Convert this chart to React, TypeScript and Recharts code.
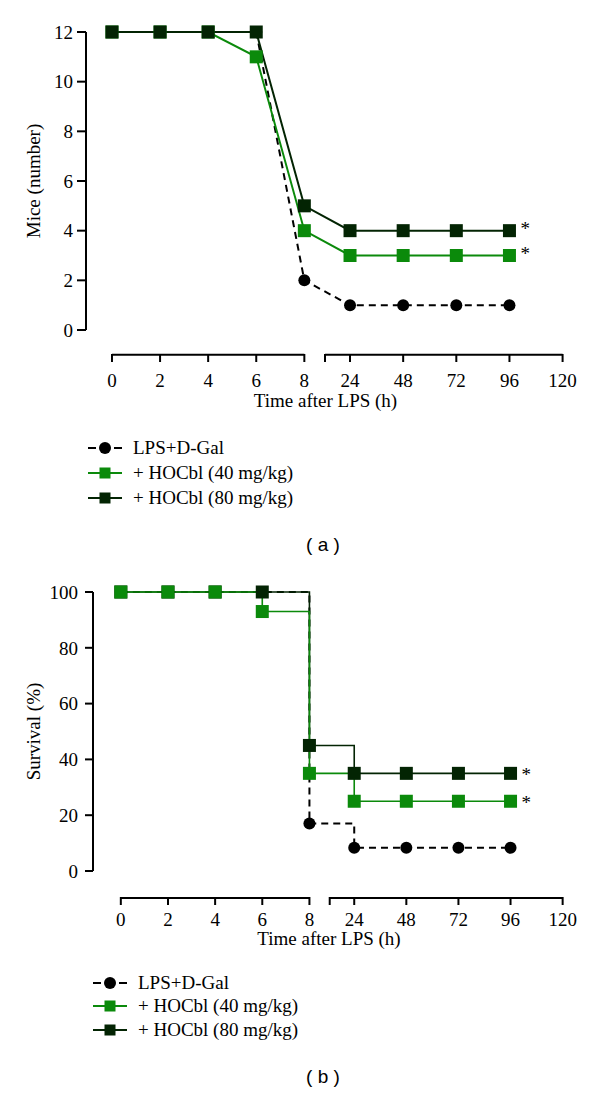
import { LineChart, Line, XAxis, YAxis, ReferenceLine, Legend } from 'recharts'

const HOURS = [0, 2, 4, 6, 8, 24, 48, 72, 96]
const HOUR_TICKS = [0, 2, 4, 6, 8, 24, 48, 72, 96, 120]

// (a) mice alive
const MICE_LPS = [12, 12, 12, 12, 2, 1, 1, 1, 1]
const MICE_HOCBL40 = [12, 12, 12, 11, 4, 3, 3, 3, 3]
const MICE_HOCBL80 = [12, 12, 12, 12, 5, 4, 4, 4, 4]
const MICE_TICKS = [0, 2, 4, 6, 8, 10, 12]

// (b) survival %
const SURV_LPS = [100, 100, 100, 100, 17, 8.3, 8.3, 8.3, 8.3]
const SURV_HOCBL40 = [100, 100, 100, 93, 35, 25, 25, 25, 25]
const SURV_HOCBL80 = [100, 100, 100, 100, 45, 35, 35, 35, 35]
const SURV_TICKS = [0, 20, 40, 60, 80, 100]

const SERIES_NAMES = ['LPS+D-Gal', '+ HOCbl (40 mg/kg)', '+ HOCbl (80 mg/kg)']

const SERIF = '"Liberation Serif", "DejaVu Serif", serif'
const SANS = '"Liberation Sans", Arial, sans-serif'
const GREEN = '#0b8a0b'
const DARK = '#032403'

// broken time axis: 0-8 h evenly spaced, then 24 h steps after the break
const toPos = (h: number) => (h <= 8 ? h / 2 : 4.95 + ((h - 24) / 24) * 1.105)
const BREAK_POS = 4.43
const X_END = toPos(120)

const xTicks = [...HOUR_TICKS.map(toPos), BREAK_POS].sort((a, b) => a - b)
const tickLabel = (v: number) => {
  const h = HOUR_TICKS.find(t => Math.abs(toPos(t) - v) < 1e-6)
  return h === undefined ? '' : String(h)
}

const buildData = (lps: number[], d40: number[], d80: number[]) =>
  HOURS.map((h, i) => ({ hour: h, pos: toPos(h), lps: lps[i], d40: d40[i], d80: d80[i] }))

const miceData = buildData(MICE_LPS, MICE_HOCBL40, MICE_HOCBL80)
const survData = buildData(SURV_LPS, SURV_HOCBL40, SURV_HOCBL80)

const squareDot = (color: string) => (props: any) => {
  const { cx, cy, index } = props
  if (cx == null || cy == null) return <g key={index} />
  return <rect key={index} x={cx - 6.5} y={cy - 6.5} width={13} height={13} fill={color} />
}

const starLabel = (last: number, dy: number) => (props: any) => {
  if (props.index !== last) return null
  return (
    <text key="star" x={props.x + 11} y={props.y + dy} fontSize={19} fontFamily={SERIF} fill="#000">
      *
    </text>
  )
}

const makeXTick = (gap: number, labelGap: number) => (props: any) => {
  const { x, y, payload } = props
  const label = tickLabel(payload.value)
  return (
    <g>
      <line x1={x} x2={x} y1={y + gap - 1} y2={y + gap + 7} stroke="#000" strokeWidth={2} />
      {label && (
        <text x={x} y={y + gap + labelGap} textAnchor="middle" fontSize={19} fontFamily={SERIF} fill="#000">
          {label}
        </text>
      )}
    </g>
  )
}

const xTitle = (dy: number) => (props: any) => {
  const vb = props.viewBox
  return (
    <text x={vb.x + vb.width / 2} y={vb.y + dy} textAnchor="middle" fontSize={19} fontFamily={SERIF} fill="#000">
      Time after LPS (h)
    </text>
  )
}

const yTitle = (text: string) => (props: any) => {
  const vb = props.viewBox
  const cx = 33
  const cy = vb.y + vb.height / 2
  return (
    <text x={cx} y={cy} transform={`rotate(-90 ${cx} ${cy})`} textAnchor="middle" dominantBaseline="central"
      fontSize={19} fontFamily={SERIF} fill="#000">
      {text}
    </text>
  )
}

function LegendBlock({ rowH }: { rowH: number }) {
  return (
    <div style={{ fontFamily: SERIF, fontSize: 19, color: '#000' }}>
      {SERIES_NAMES.map((name, i) => (
        <div key={name} style={{ display: 'flex', alignItems: 'center', height: rowH }}>
          <svg width={36} height={16} style={{ flex: 'none' }}>
            {i === 0 ? (
              <>
                <line x1={0} x2={8} y1={8} y2={8} stroke="#000" strokeWidth={2} />
                <line x1={26} x2={34} y1={8} y2={8} stroke="#000" strokeWidth={2} />
                <circle cx={17} cy={8} r={6} fill="#000" />
              </>
            ) : (
              <>
                <line x1={0} x2={34} y1={8} y2={8} stroke={i === 1 ? GREEN : DARK} strokeWidth={2} />
                <rect x={11.5} y={2.5} width={11} height={11} fill={i === 1 ? GREEN : DARK} />
              </>
            )}
          </svg>
          <span style={{ marginLeft: 9, whiteSpace: 'nowrap' }}>{name}</span>
        </div>
      ))}
    </div>
  )
}

const axisStroke = { stroke: '#000', strokeWidth: 2 }

export default function App() {
  const last = HOURS.length - 1
  return (
    <div style={{ position: 'absolute', left: 0, top: 0, width: 600, height: 1093, background: '#fff', fontFamily: SERIF }}>
      {/* (a) number of mice */}
      <div style={{ position: 'absolute', left: 0, top: 0 }}>
        <LineChart width={600} height={560} data={miceData} margin={{ top: 32, right: 35, bottom: 150, left: 0 }}>
          <XAxis dataKey="pos" type="number" domain={[-0.54, 9.42]} ticks={xTicks} interval={0}
            axisLine={false} tickLine={false} tickSize={0} tickMargin={0} height={80}
            tick={makeXTick(25, 32)} label={{ content: xTitle(77) }} />
          <YAxis type="number" domain={[0, 12]} ticks={MICE_TICKS} width={86} tickSize={9} tickMargin={4}
            axisLine={axisStroke} tickLine={axisStroke} tick={{ fill: '#000', fontSize: 19, fontFamily: SERIF }}
            label={{ content: yTitle('Mice (number)') }} />
          <ReferenceLine segment={[{ x: 0, y: -1.0 }, { x: 4, y: -1.0 }]} ifOverflow="visible" stroke="#000" strokeWidth={2} />
          <ReferenceLine segment={[{ x: BREAK_POS, y: -1.0 }, { x: X_END, y: -1.0 }]} ifOverflow="visible" stroke="#000" strokeWidth={2} />
          <Line dataKey="lps" name={SERIES_NAMES[0]} stroke="#000" strokeWidth={2} strokeDasharray="7 5"
            dot={{ r: 6, fill: '#000', stroke: '#000', strokeWidth: 0 }} isAnimationActive={false} />
          <Line dataKey="d40" name={SERIES_NAMES[1]} stroke={GREEN} strokeWidth={2}
            dot={squareDot(GREEN)} label={starLabel(last, 4)} isAnimationActive={false} />
          <Line dataKey="d80" name={SERIES_NAMES[2]} stroke={DARK} strokeWidth={2}
            dot={squareDot(DARK)} label={starLabel(last, 4)} isAnimationActive={false} />
          <Legend layout="horizontal" align="center" verticalAlign="middle"
            wrapperStyle={{ top: 435, left: 88, width: 320 }} content={() => <LegendBlock rowH={25} />} />
        </LineChart>
        <div style={{ position: 'absolute', left: 323, top: 545, transform: 'translate(-50%, -50%)', fontFamily: SANS, fontSize: 19 }}>
          ( a )
        </div>
      </div>

      {/* (b) survival */}
      <div style={{ position: 'absolute', left: 0, top: 560 }}>
        <LineChart width={600} height={533} data={survData} margin={{ top: 32, right: 35, bottom: 142, left: 0 }}>
          <XAxis dataKey="pos" type="number" domain={[-0.59, 9.42]} ticks={xTicks} interval={0}
            axisLine={false} tickLine={false} tickSize={0} tickMargin={0} height={80}
            tick={makeXTick(27, 28)} label={{ content: xTitle(74) }} />
          <YAxis type="number" domain={[0, 100]} ticks={SURV_TICKS} width={93} tickSize={8} tickMargin={7}
            axisLine={axisStroke} tickLine={axisStroke} tick={{ fill: '#000', fontSize: 19, fontFamily: SERIF }}
            label={{ content: yTitle('Survival (%)') }} />
          <ReferenceLine segment={[{ x: 0, y: -9.68 }, { x: 4, y: -9.68 }]} ifOverflow="visible" stroke="#000" strokeWidth={2} />
          <ReferenceLine segment={[{ x: BREAK_POS, y: -9.68 }, { x: X_END, y: -9.68 }]} ifOverflow="visible" stroke="#000" strokeWidth={2} />
          <Line type="stepAfter" dataKey="lps" name={SERIES_NAMES[0]} stroke="#000" strokeWidth={2} strokeDasharray="7 5"
            dot={{ r: 6, fill: '#000', stroke: '#000', strokeWidth: 0 }} isAnimationActive={false} />
          <Line type="stepAfter" dataKey="d80" name={SERIES_NAMES[2]} stroke={DARK} strokeWidth={1.6}
            dot={squareDot(DARK)} label={starLabel(last, 8)} isAnimationActive={false} />
          <Line type="stepAfter" dataKey="d40" name={SERIES_NAMES[1]} stroke={GREEN} strokeWidth={1.6}
            dot={squareDot(GREEN)} label={starLabel(last, 8)} isAnimationActive={false} />
          <Legend layout="horizontal" align="center" verticalAlign="middle"
            wrapperStyle={{ top: 411, left: 93, width: 320 }} content={() => <LegendBlock rowH={23.5} />} />
        </LineChart>
        <div style={{ position: 'absolute', left: 323, top: 517, transform: 'translate(-50%, -50%)', fontFamily: SANS, fontSize: 19 }}>
          ( b )
        </div>
      </div>
    </div>
  )
}
